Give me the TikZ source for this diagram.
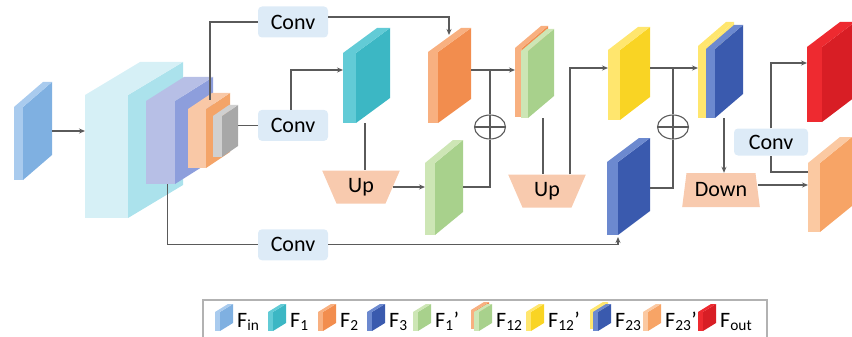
\documentclass[tikz,border=0pt]{standalone}
\usepackage{fontspec}
\setmainfont{Carlito}
\usepackage{tikz}
\usetikzlibrary{positioning,shapes.geometric,arrows.meta}

\definecolor{finf}{HTML}{A9CBEE}\definecolor{fins}{HTML}{7FB0E1}
\definecolor{encf}{HTML}{D6F0F6}\definecolor{encs}{HTML}{ABE2EC}
\definecolor{purf}{HTML}{B7BFE6}\definecolor{purs}{HTML}{8D9EDC}
\definecolor{orgf}{HTML}{F9C8A6}\definecolor{orgs}{HTML}{F4A468}
\definecolor{gryf}{HTML}{D0D0D0}\definecolor{grys}{HTML}{A8A8A8}
\definecolor{fonef}{HTML}{62CBD6}\definecolor{fones}{HTML}{3CB7C4}
\definecolor{ftwof}{HTML}{F8B080}\definecolor{ftwos}{HTML}{F28D4E}
\definecolor{fgrf}{HTML}{CDE6B5}\definecolor{fgrs}{HTML}{A8D18C}
\definecolor{fyef}{HTML}{FFE66E}\definecolor{fyes}{HTML}{F9D424}
\definecolor{fthf}{HTML}{6C89CF}\definecolor{fths}{HTML}{3A5AAE}
\definecolor{fpef}{HTML}{FBC9A2}\definecolor{fpes}{HTML}{F7A466}
\definecolor{foutf}{HTML}{EE2A30}\definecolor{fouts}{HTML}{D81E25}
\definecolor{convblue}{HTML}{DDEBF7}
\definecolor{trapfill}{HTML}{F8CAAE}
\definecolor{linegray}{HTML}{5A5A5A}

% feature map: name, front top-left, thickness, height, depth, front colour, side colour
\newcommand{\fmap}[7]{%
  \node[fmapfront, fill=#6, minimum width=#3, minimum height=#4] (#1) at (#2) {};
  \fill[#7] (#1.north east) -- (#1.south east) -- ++(#5) -- ++(0,-#4) -- cycle;
  \fill[#6] (#1.north west) -- (#1.north east) -- ++(#5) -- ++(-#3,0) -- cycle;
  \path (#1.east) ++(#5) coordinate (#1-r);
}

\begin{document}
\begin{tikzpicture}[x=1pt,y=-1pt, font=\fontsize{22}{26}\selectfont,
  fmapfront/.style={rectangle, anchor=north west, inner sep=0pt, outer sep=0pt},
  conv/.style={fill=convblue, rounded corners=4pt, minimum width=70, minimum height=31, inner sep=0pt},
  trap/.style={trapezium, fill=trapfill, trapezium stretches=true, minimum width=78, minimum height=33, inner sep=0pt},
  sum/.style={ellipse, draw=linegray, line width=1.1pt, minimum width=31, minimum height=24, inner sep=0pt,
    path picture={\draw[linegray, line width=1.1pt] (path picture bounding box.north) -- (path picture bounding box.south)
      (path picture bounding box.west) -- (path picture bounding box.east);}},
  wire/.style={draw=linegray, line width=1.1pt},
  arr/.style={wire, -{Stealth[length=6pt,width=5pt]}}]
\useasboundingbox (0,0) rectangle (852,337);

   \fmap{fin}{14,107}{9}{73}{29,-25}{finf}{fins} %
   \fmap{enc}{85,95}{43}{123}{55,-33}{encf}{encs} %
   \fmap{pur}{146,101}{29}{83}{38,-24}{purf}{purs} %
   \fmap{org}{188,109}{18}{59}{24,-16}{orgf}{orgs} %
   \fmap{gry}{213,116}{9}{41}{16,-11}{gryf}{grys} %
   \fmap{f1}{343,53}{13}{70}{34,-25}{fonef}{fones} %
   \fmap{f2}{428,52}{10}{71}{33,-24}{ftwof}{ftwos} %
   \fmap{f1p}{425,163}{10}{72}{28,-23}{fgrf}{fgrs} %
   \fmap{f12o}{515,48}{7}{69}{26,-22}{ftwof}{ftwos} %
   \fmap{f12}{521,51}{7}{67}{26,-22}{fgrf}{fgrs} %
   \fmap{f12p}{608,50}{12}{70}{30,-23}{fyef}{fyes} %
   \fmap{f3}{607,162}{11}{73}{32,-24}{fthf}{fths} %
   \fmap{f23y}{698,46}{8}{72}{28,-24}{fyef}{fyef} %
   \fmap{f23}{706,49}{9}{69}{28,-24}{fthf}{fths} %
   \fmap{f23p}{808,163}{12}{69}{32,-26}{fpef}{fpes} %
   \fmap{fout}{807,47}{15}{75}{33,-25}{foutf}{fouts} %

   \node[conv]                    (conv1) at (293,22)  {Conv} ; %
   \node[conv, below=72pt of conv1] (conv2)          {Conv} ; %
   \node[conv, below=88pt of conv2] (conv3)          {Conv} ; %
   \node[conv, minimum width=74, minimum height=27] (conv4) at (771,142) {Conv} ; %
   \node[trap, shape border rotate=180, trapezium left angle=67, trapezium right angle=67] (up1) at (361,187) {Up} ; %
   \node[trap, shape border rotate=180, trapezium left angle=67, trapezium right angle=67] (up2) at (547,191) {Up} ; %
   \node[trap, minimum height=34, trapezium left angle=77, trapezium right angle=77] (down) at (721,190) {Down} ; %
   \node[sum]                     (sum1)  at (490,127) {} ; %
   \node[sum]                     (sum2)  at (673,127) {} ; %

  \draw[arr] (fin-r |- 0,131) -- (enc.west |- 0,131) ;
  \draw[wire] ([xshift=4pt,yshift=9pt]org.north east) |- (conv1) ;
  \draw[arr] (conv1.east |- 0,17) -| ([xshift=11pt,yshift=17pt]f2.north east) ;
  \draw[wire] (gry-r) -- (gry-r -| conv2.west) ;
  \draw[arr] ([xshift=-2pt]conv2.north) |- (f1.west |- 0,70) ;
  \draw[wire] ([xshift=4pt]up1.north |- f1.south) -- ([xshift=4pt]up1.north) ;
  \draw[arr] (up1.east) -- (up1.east -| f1p.west) ;
  \draw[wire] (f1p-r |- up1.east) -| (sum1.south) ;
  \draw[arr] (f2-r |- 0,70) -- (f12o.west |- 0,70) ;
  \draw[wire] (sum1.north) -- (sum1.north |- 0,70) ;
  \draw[wire] ([xshift=15pt]f12.south east) -- ([xshift=15pt]f12.south east |- up2.north) ;
  \draw[arr] ([xshift=23pt]up2.north) |- (f12p.west |- 0,68) ;
  \draw[arr] (f12p-r |- 0,68) -- (f23y.west |- 0,68) ;
  \draw[wire] (sum2.north) -- (sum2.north |- 0,68) ;
  \draw[wire] (f3-r |- 0,188) -| (sum2.south) ;
  \draw[wire] ([xshift=7pt]pur.south) |- (conv3) ;
  \draw[arr] (conv3) -| ([yshift=-2pt]f3.south east) ;
  \draw[arr] ([xshift=9pt]f23.south east) -- ([xshift=9pt]f23.south east |- down.north) ;
  \draw[arr] ([yshift=5pt]down.east) -- ([yshift=5pt]down.east -| f23p.west) ;
  \draw[wire] (f23p.west |- 0,172) -| (conv4.south) ;
  \draw[arr] (conv4.north) |- (fout.west |- 0,63) ;

  % legend
  \draw[draw=gray!60, line width=1.2pt] (203,300) rectangle (767,345) ;
  \fmap{lb12}{471,310}{5}{19}{13,-8}{ftwof}{ftwos}
  \fmap{lb23}{590,310}{5}{19}{13,-8}{fyef}{fyef}
  \foreach \n/\x/\cf/\cs/\lab in {in/215/finf/fins/F\textsubscript{in}, 1/268/fonef/fones/F\textsubscript{1},
      2/318/ftwof/ftwos/F\textsubscript{2}, 3/367/fthf/fths/F\textsubscript{3}, 1p/413/fgrf/fgrs/F\textsubscript{1}',
      12/474/fgrf/fgrs/F\textsubscript{12}, 12p/526/fyef/fyes/F\textsubscript{12}', 23/593/fthf/fths/F\textsubscript{23},
      23p/643/fpef/fpes/F\textsubscript{23}', out/698/foutf/fouts/F\textsubscript{out}} {
    \fmap{l\n}{\x,312}{5}{19}{13,-8}{\cf}{\cs}
    \node[anchor=base west, inner sep=0pt, font=\fontsize{22}{26}\selectfont] (t\n) at ([xshift=4pt]l\n-r |- 0,327) {\lab} ;
  }

\end{tikzpicture}
\end{document}
